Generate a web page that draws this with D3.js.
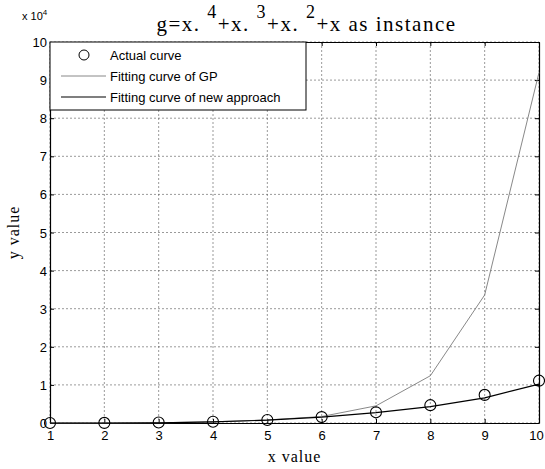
<!DOCTYPE html>
<html>
<head>
<meta charset="utf-8">
<script src="https://cdn.jsdelivr.net/npm/d3@7"></script>
<style>
  body { margin: 0; background: #fff; }
  svg { display: block; }
</style>
</head>
<body>
<svg id="chart" width="545" height="469"></svg>
<script>
// data
const xValues = [1, 2, 3, 4, 5, 6, 7, 8, 9, 10];
const actualCurve = [4, 30, 120, 340, 780, 1554, 2800, 4680, 7380, 11110];
const gpCurve = [0, 0, 50, 300, 800, 1700, 4500, 12400, 33600, 92000];
const newCurve = [0, 0, 50, 300, 750, 1550, 2700, 4300, 6600, 10200];
const xTicks = [1, 2, 3, 4, 5, 6, 7, 8, 9, 10];
const yTicks = [0, 1, 2, 3, 4, 5, 6, 7, 8, 9, 10];
const legendLabels = ['Actual curve', 'Fitting curve of GP', 'Fitting curve of new approach'];

const svg = d3.select('#chart');
const margin = { top: 42, right: 6, bottom: 46, left: 50 };
const width = 545 - margin.left - margin.right;
const height = 469 - margin.top - margin.bottom;
const sans = 'Liberation Sans, Arial, sans-serif';
const serif = 'Liberation Serif, Times New Roman, serif';

const x = d3.scaleLinear().domain([1, 10]).range([0, width]);
const y = d3.scaleLinear().domain([0, 100000]).range([height, 0]);

const g = svg.append('g').attr('transform', `translate(${margin.left},${margin.top})`);

// grid
g.append('g')
  .selectAll('line')
  .data(xTicks)
  .enter()
  .append('line')
  .attr('x1', d => x(d)).attr('x2', d => x(d))
  .attr('y1', 0).attr('y2', height)
  .attr('stroke', '#555')
  .attr('stroke-width', 0.6)
  .attr('stroke-dasharray', '2,2');

g.append('g')
  .selectAll('line')
  .data(yTicks)
  .enter()
  .append('line')
  .attr('x1', 0).attr('x2', width)
  .attr('y1', d => y(d * 10000)).attr('y2', d => y(d * 10000))
  .attr('stroke', '#555')
  .attr('stroke-width', 0.6)
  .attr('stroke-dasharray', '2,2');

// axes
const xAxis = g.append('g')
  .attr('transform', `translate(0,${height})`)
  .call(d3.axisBottom(x).tickValues(xTicks).tickSizeInner(-4).tickSizeOuter(0).tickPadding(8));
const yAxis = g.append('g')
  .call(d3.axisLeft(y).tickValues(yTicks.map(d => d * 10000)).tickFormat(d => d / 10000)
    .tickSizeInner(-4).tickSizeOuter(0).tickPadding(3));
g.append('g')
  .call(d3.axisTop(x).tickValues(xTicks).tickSizeInner(-4).tickSizeOuter(0).tickFormat(''));
g.append('g')
  .attr('transform', `translate(${width},0)`)
  .call(d3.axisRight(y).tickValues(yTicks.map(d => d * 10000)).tickSizeInner(-4).tickSizeOuter(0).tickFormat(''));

g.selectAll('.domain').attr('stroke', '#000').attr('stroke-width', 1.2);
g.selectAll('.tick line').attr('stroke', '#000');
g.selectAll('.tick text').attr('font-family', sans).attr('font-size', 13).attr('fill', '#000');
yAxis.selectAll('.tick text').attr('dy', '0.35em');
// last label sits against the page edge
xAxis.selectAll('.tick text').filter(d => d === 10).attr('dx', -3);

// lines
const line = d3.line().x((d, i) => x(xValues[i])).y(d => y(d));

g.append('path')
  .datum(gpCurve)
  .attr('d', line)
  .attr('fill', 'none')
  .attr('stroke', '#7a7a7a')
  .attr('stroke-width', 0.9);

g.append('path')
  .datum(newCurve)
  .attr('d', line)
  .attr('fill', 'none')
  .attr('stroke', '#000')
  .attr('stroke-width', 1.2);

g.append('g')
  .selectAll('circle')
  .data(actualCurve)
  .enter()
  .append('circle')
  .attr('cx', (d, i) => x(xValues[i]))
  .attr('cy', d => y(d))
  .attr('r', 5.5)
  .attr('fill', 'none')
  .attr('stroke', '#000')
  .attr('stroke-width', 1.1);

// legend
const legend = g.append('g');
legend.append('rect')
  .attr('x', 0).attr('y', 0)
  .attr('width', 256).attr('height', 68)
  .attr('fill', '#fff')
  .attr('stroke', '#000')
  .attr('stroke-width', 1);

const rows = [13, 34, 55];
legend.append('circle')
  .attr('cx', 34).attr('cy', rows[0])
  .attr('r', 5)
  .attr('fill', 'none').attr('stroke', '#000').attr('stroke-width', 1);
legend.append('line')
  .attr('x1', 11).attr('x2', 56).attr('y1', rows[1]).attr('y2', rows[1])
  .attr('stroke', '#7a7a7a').attr('stroke-width', 0.9);
legend.append('line')
  .attr('x1', 11).attr('x2', 56).attr('y1', rows[2]).attr('y2', rows[2])
  .attr('stroke', '#000').attr('stroke-width', 1.2);
legend.selectAll('text')
  .data(legendLabels)
  .enter()
  .append('text')
  .attr('x', 60)
  .attr('y', (d, i) => rows[i])
  .attr('dy', '0.35em')
  .attr('font-family', sans)
  .attr('font-size', 13)
  .text(d => d);

// exponent label
const expo = svg.append('text')
  .attr('x', 22).attr('y', 20)
  .attr('font-family', sans)
  .attr('font-size', 11);
expo.append('tspan').text('x 10');
expo.append('tspan').attr('dy', -5).attr('font-size', 8).text('4');

// title
const title = svg.append('text')
  .attr('x', margin.left + width / 2 + 12)
  .attr('y', 31)
  .attr('text-anchor', 'middle')
  .attr('font-family', serif)
  .attr('font-size', 21)
  .attr('letter-spacing', 1.5);
const parts = [['g=x. ', '4'], ['+x. ', '3'], ['+x. ', '2'], ['+x as instance', null]];
let lift = 0;
parts.forEach(([base, sup]) => {
  title.append('tspan').attr('dy', lift).text(base);
  lift = 0;
  if (sup) {
    title.append('tspan').attr('dy', -13).attr('font-size', 18).text(sup);
    lift = 13;
  }
});

// axis labels
svg.append('text')
  .attr('x', margin.left + width / 2)
  .attr('y', 462)
  .attr('text-anchor', 'middle')
  .attr('font-family', serif)
  .attr('font-size', 16)
  .attr('letter-spacing', 1)
  .text('x value');

svg.append('text')
  .attr('transform', `translate(19,${margin.top + height / 2}) rotate(-90)`)
  .attr('text-anchor', 'middle')
  .attr('font-family', serif)
  .attr('font-size', 16)
  .attr('letter-spacing', 1)
  .text('y value');
</script>
</body>
</html>
